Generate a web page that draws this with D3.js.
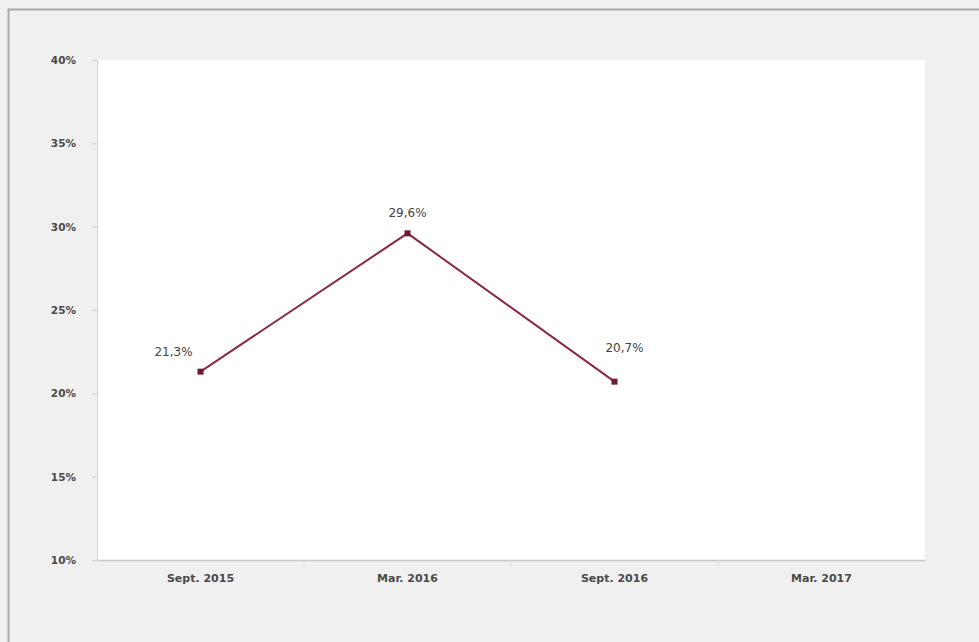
<!DOCTYPE html>
<html>
<head>
<meta charset="utf-8">
<script src="https://cdn.jsdelivr.net/npm/d3@7/dist/d3.min.js"></script>
<style>
  html, body { margin: 0; padding: 0; background: #f0f0f0; }
  svg { display: block; }
</style>
</head>
<body>
<svg id="chart" width="979" height="642"></svg>
<script>
// Survey waves shown on the horizontal axis
const periods = ["Sept. 2015", "Mar. 2016", "Sept. 2016", "Mar. 2017"];
// Measured share (percent) per wave; the last wave has no value yet
const shares = [21.3, 29.6, 20.7];
// Labels printed next to each point
const shareLabels = ["21,3%", "29,6%", "20,7%"];
// Vertical axis ticks (percent)
const yTicks = [10, 15, 20, 25, 30, 35, 40];

const W = 979, H = 642;
const plot = { left: 97, right: 925, top: 60, bottom: 560 };
const FONT = "DejaVu Sans, Verdana, sans-serif";

const svg = d3.select("#chart");

// outer frame
svg.append("rect").attr("x", 0).attr("y", 0).attr("width", W).attr("height", H).attr("fill", "#f0f0f0");
svg.append("line").attr("x1", 8).attr("x2", W).attr("y1", 9.5).attr("y2", 9.5)
  .attr("stroke", "#a8a8a8").attr("stroke-width", 2);
svg.append("line").attr("x1", 8.5).attr("x2", 8.5).attr("y1", 9).attr("y2", H)
  .attr("stroke", "#a8a8a8").attr("stroke-width", 2);

// plotting area
svg.append("rect")
  .attr("x", plot.left).attr("y", plot.top)
  .attr("width", plot.right - plot.left).attr("height", plot.bottom - plot.top)
  .attr("fill", "#ffffff");

const x = d3.scaleBand().domain(periods).range([plot.left, plot.right]).paddingInner(0).paddingOuter(0);
const y = d3.scaleLinear().domain([10, 40]).range([plot.bottom, plot.top]);

// y axis
const yAxis = svg.append("g")
  .attr("transform", `translate(${plot.left},0)`)
  .call(d3.axisLeft(y).tickValues(yTicks).tickSize(5).tickPadding(16).tickFormat(d => d + "%"));
yAxis.select(".domain").attr("stroke", "#d6d6d6");
yAxis.selectAll(".tick line").attr("stroke", "#d0d0d0");
yAxis.selectAll("text")
  .attr("fill", "#4a4a4a").attr("font-family", FONT)
  .attr("font-size", 10.5).attr("font-weight", "bold");

// x axis with ticks on category boundaries
const xAxis = svg.append("g")
  .attr("transform", `translate(0,${plot.bottom})`)
  .call(d3.axisBottom(x).tickSize(0).tickPadding(14));
xAxis.select(".domain").attr("stroke", "#c8c8c8").attr("stroke-width", 1.5);
xAxis.selectAll("text")
  .attr("fill", "#4a4a4a").attr("font-family", FONT)
  .attr("font-size", 11).attr("font-weight", "bold");
xAxis.selectAll(".boundary")
  .data(periods.slice(1))
  .join("line")
  .attr("class", "boundary")
  .attr("x1", d => x(d)).attr("x2", d => x(d))
  .attr("y1", 0).attr("y2", 6)
  .attr("stroke", "#e0e0e0");

const pts = shares.map((v, i) => ({ p: periods[i], v, label: shareLabels[i] }));

// series line
svg.append("path")
  .datum(pts)
  .attr("fill", "none")
  .attr("stroke", "#8a2846")
  .attr("stroke-width", 2)
  .attr("d", d3.line().x(d => x(d.p) + x.bandwidth() / 2).y(d => y(d.v)));

// square markers
svg.selectAll(".marker")
  .data(pts)
  .join("rect")
  .attr("class", "marker")
  .attr("x", d => x(d.p) + x.bandwidth() / 2 - 3)
  .attr("y", d => y(d.v) - 3)
  .attr("width", 6).attr("height", 6)
  .attr("fill", "#6e1a36");

// value labels
const labelOffsets = [[-27, -16], [0, -16], [10, -30]];
svg.selectAll(".vlabel")
  .data(pts)
  .join("text")
  .attr("class", "vlabel")
  .attr("x", (d, i) => x(d.p) + x.bandwidth() / 2 + labelOffsets[i][0])
  .attr("y", (d, i) => y(d.v) + labelOffsets[i][1])
  .attr("text-anchor", "middle")
  .attr("fill", "#444")
  .attr("font-family", FONT)
  .attr("font-size", 12)
  .text(d => d.label);
</script>
</body>
</html>
